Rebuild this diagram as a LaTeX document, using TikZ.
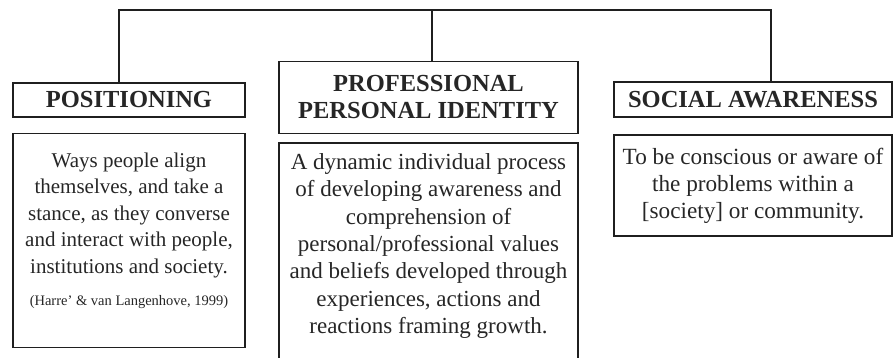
\documentclass[tikz,border=0pt]{standalone}
\usepackage{fontspec}
\setmainfont{Liberation Serif}
\usepackage{tikz}
\colorlet{boxgrey}{black!88}
\colorlet{textgrey}{black!85}

\tikzset{
    headbox/.style={draw=boxgrey, line width=1.6pt, align=center, inner sep=0pt,
        text=textgrey, font=\fontsize{24.5}{27}\selectfont\bfseries},
    descbox/.style={draw=boxgrey, line width=1.6pt, inner sep=0pt},
    desctext/.style={align=center, inner sep=0pt, text=textgrey, anchor=north},
    link/.style={draw=boxgrey, line width=1.3pt}
}

\begin{document}
\begin{tikzpicture}[x=1pt,y=-1pt]
        \useasboundingbox (0,0) rectangle (894,357);
        % heading boxes
        \node[headbox, minimum width=232, minimum height=34] (posT) at (129,100) {POSITIONING};
        \node[headbox, minimum width=299, minimum height=72] (proT) at (428.5,97.5) {PROFESSIONAL\\PERSONAL IDENTITY};
        \node[headbox, minimum width=278, minimum height=35] (socT) at (753,99.5) {SOCIAL AWARENESS};
        % description boxes (the middle one runs off the bottom)
        \node[descbox, minimum width=232, minimum height=214] (posD) at (129,240.5) {};
        \node[descbox, minimum width=299, minimum height=227] (proD) at (428.5,256.5) {};
        \node[descbox, minimum width=278, minimum height=101] (socD) at (753,185.5) {};
        % texts in the description boxes
        \node[desctext, font=\fontsize{21}{26.5}\selectfont] (posTxt) at (129,152.5)
            {Ways people align\\themselves, and take a\\stance, as they converse\\and interact with people,\\institutions and society.};
        \node[desctext, anchor=base, font=\fontsize{14.5}{17}\selectfont] (posCite) at (129,305)
            {(Harre’ \& van Langenhove, 1999)};
        \node[desctext, font=\fontsize{23}{27.3}\selectfont] (proTxt) at (428.5,153.5)
            {A dynamic individual process\\of developing awareness and\\comprehension of\\personal/professional values\\and beliefs developed through\\experiences, actions and\\reactions framing growth.};
        \node[desctext, font=\fontsize{23.2}{27}\selectfont] (socTxt) at (753,147.5)
            {To be conscious or aware of\\the problems within a\\{[}society{]} or community.};
        % bracket on top joining the three headings
        \coordinate (barL) at (119,10);
        \coordinate (barM) at (432,10);
        \coordinate (barR) at (771,10);
        \draw[link] (posT.north -| barL) -- (barL) -- (barR) -- (socT.north -| barR);
        \draw[link] (barM) -- (proT.north -| barM);
    \end{tikzpicture}
\end{document}
